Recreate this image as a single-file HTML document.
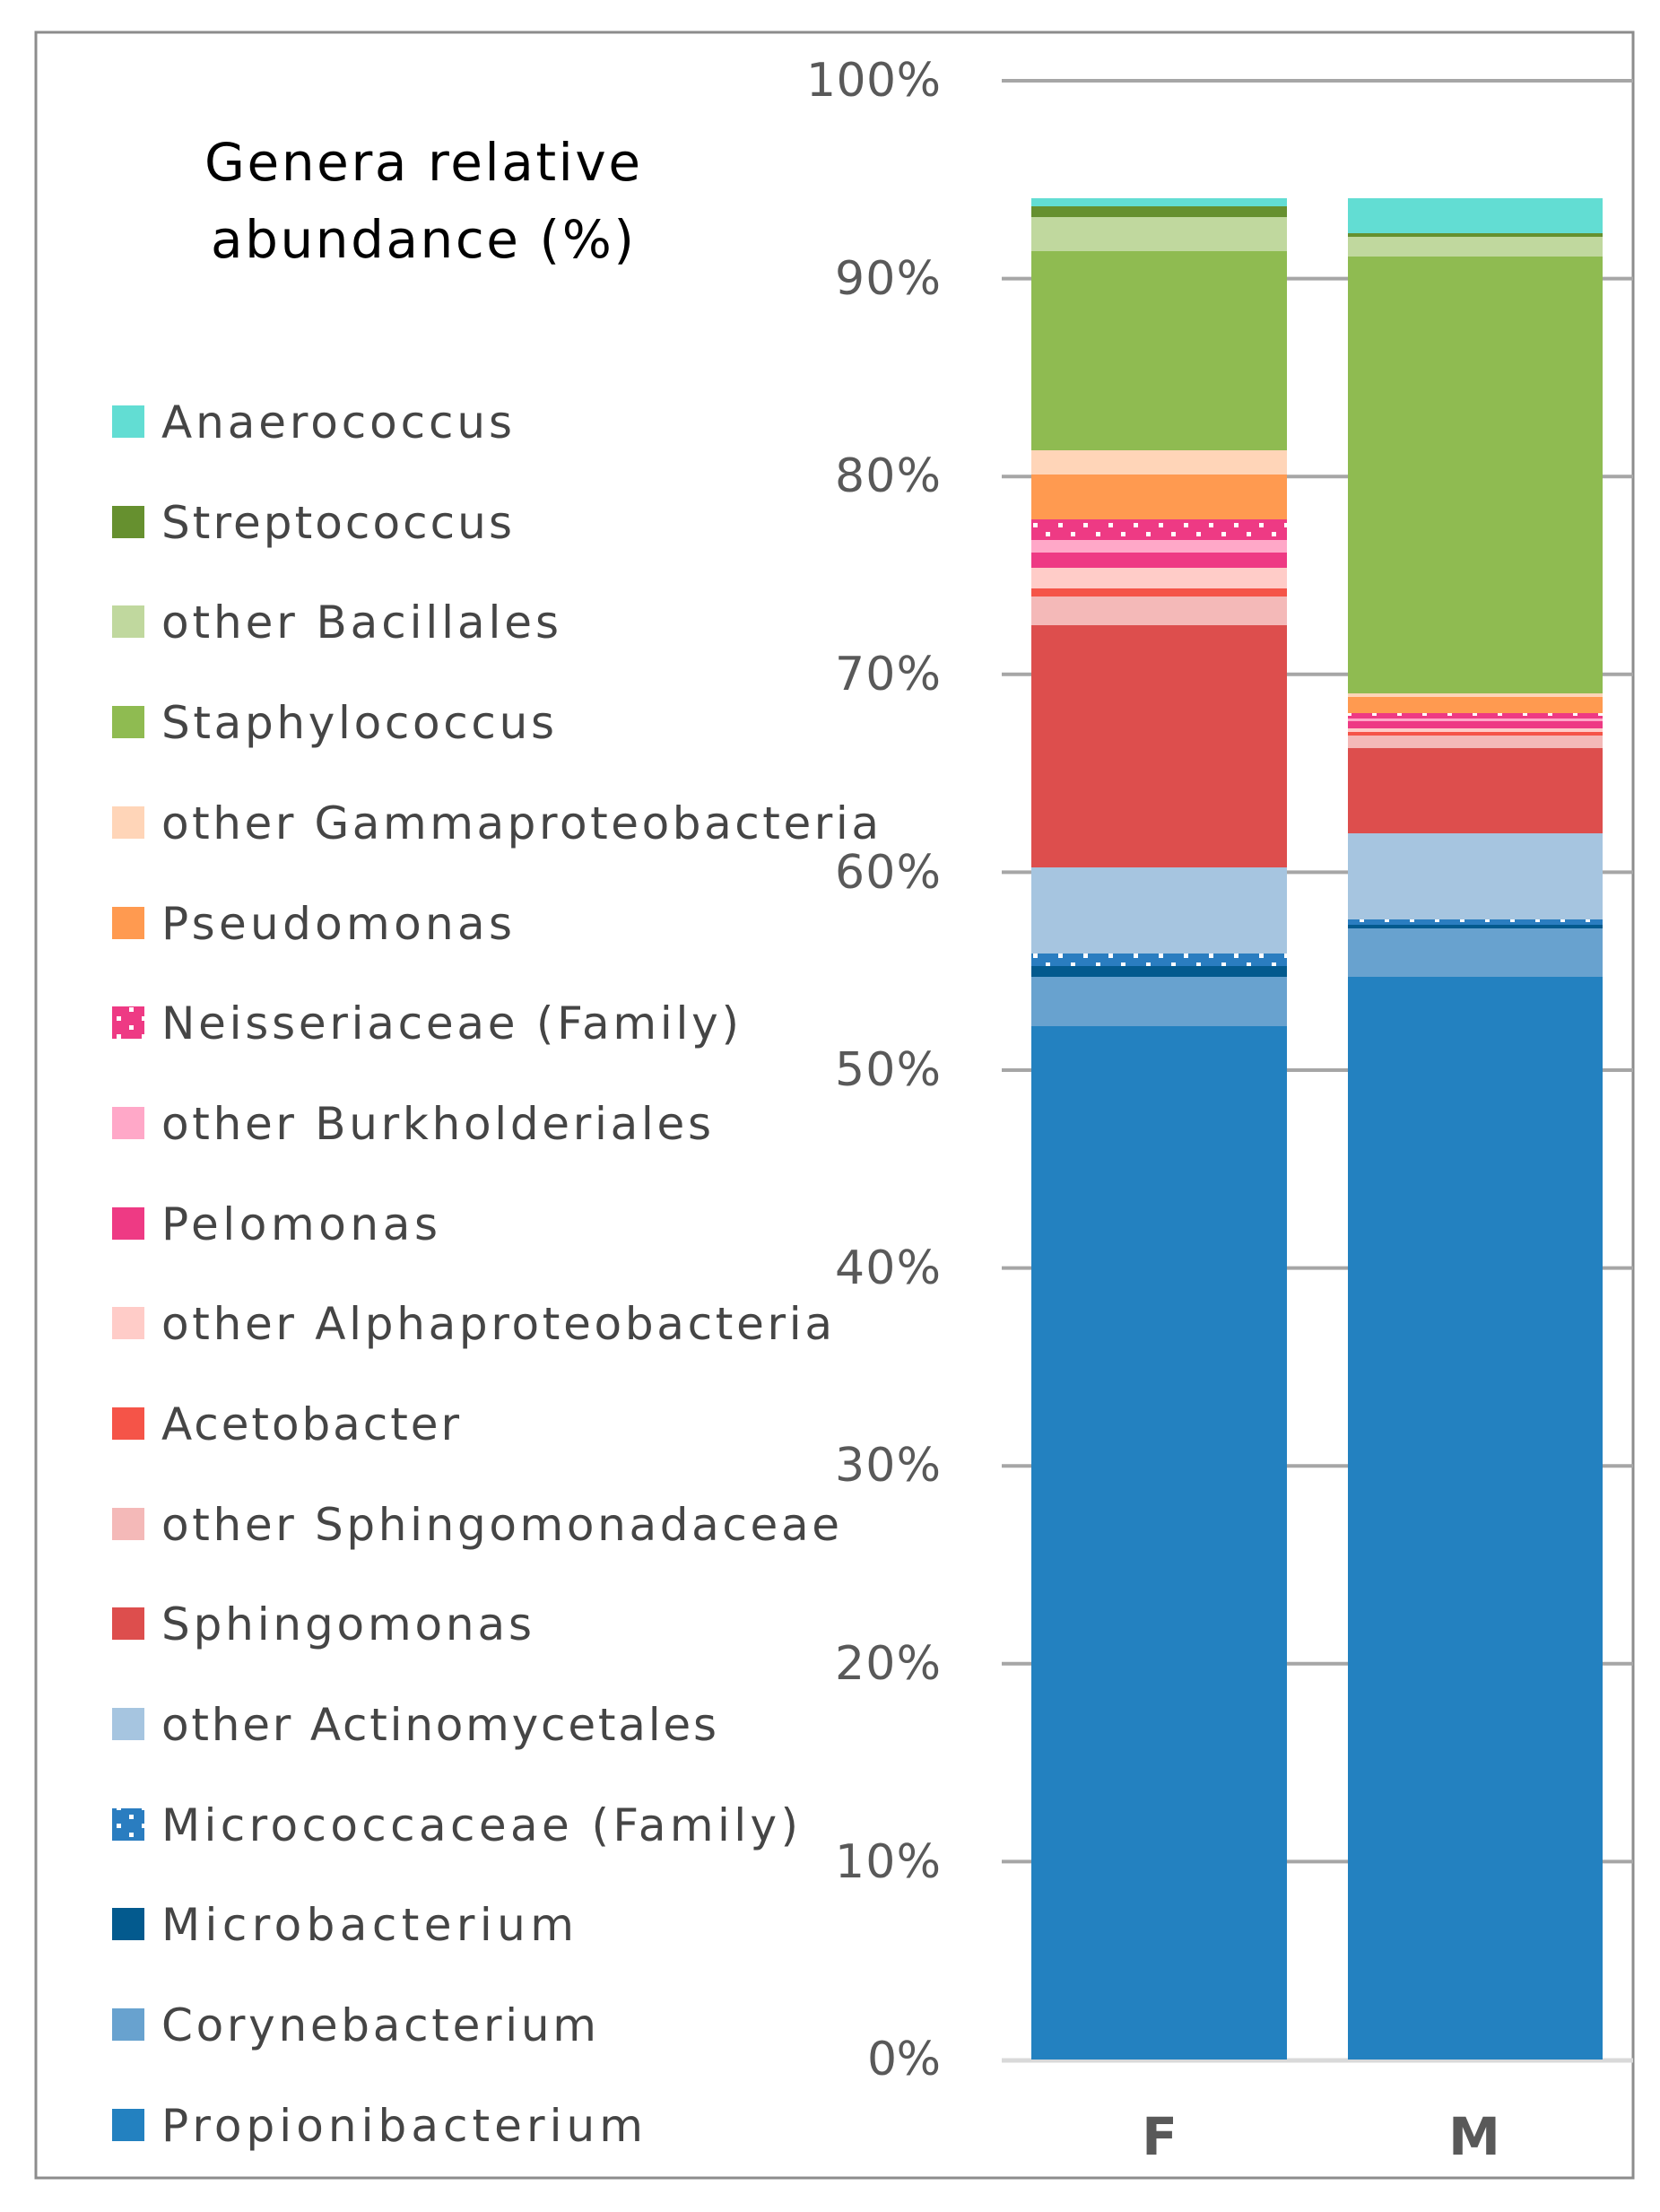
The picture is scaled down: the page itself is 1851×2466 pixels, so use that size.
<!DOCTYPE html>
<html><head><meta charset="utf-8"><style>
html,body{margin:0;padding:0;background:#fff;}
svg{display:block;}
text{font-family:"DejaVu Sans","Liberation Sans",sans-serif;}
</style></head><body>
<svg width="1851" height="2466" viewBox="0 0 1851 2466" xmlns="http://www.w3.org/2000/svg">
<defs>
<pattern id="pk" width="28" height="20" patternUnits="userSpaceOnUse">
<rect width="28" height="20" fill="#EE3A84"/>
<rect x="4" y="3" width="5" height="5" fill="#fff"/><rect x="18" y="13" width="5" height="5" fill="#fff"/>
</pattern>
<pattern id="bl" width="28" height="20" patternUnits="userSpaceOnUse">
<rect width="28" height="20" fill="#2A7DC0"/>
<rect x="4" y="3" width="5" height="5" fill="#fff"/><rect x="18" y="13" width="5" height="5" fill="#fff"/>
</pattern>
</defs>
<rect x="40" y="36" width="1781" height="2392" fill="#fff" stroke="#8c8c8c" stroke-width="3"/>
<g stroke="#a6a6a6" stroke-width="4">
<line x1="1117" y1="90" x2="1821" y2="90"/>
<line x1="1117" y1="310.6" x2="1821" y2="310.6"/>
<line x1="1117" y1="531.2" x2="1821" y2="531.2"/>
<line x1="1117" y1="751.8" x2="1821" y2="751.8"/>
<line x1="1117" y1="972.4" x2="1821" y2="972.4"/>
<line x1="1117" y1="1193" x2="1821" y2="1193"/>
<line x1="1117" y1="1413.6" x2="1821" y2="1413.6"/>
<line x1="1117" y1="1634.2" x2="1821" y2="1634.2"/>
<line x1="1117" y1="1854.8" x2="1821" y2="1854.8"/>
<line x1="1117" y1="2075.4" x2="1821" y2="2075.4"/>
</g>
<line x1="1117" y1="2297" x2="1821" y2="2297" stroke="#d9d9d9" stroke-width="5"/>
<g fill="#595959" font-size="52" text-anchor="end">
<text x="1049" y="107" textLength="150">100%</text>
<text x="1049" y="328" textLength="118">90%</text>
<text x="1049" y="548" textLength="118">80%</text>
<text x="1049" y="769" textLength="118">70%</text>
<text x="1049" y="990" textLength="118">60%</text>
<text x="1049" y="1210" textLength="118">50%</text>
<text x="1049" y="1431" textLength="118">40%</text>
<text x="1049" y="1651" textLength="118">30%</text>
<text x="1049" y="1872" textLength="118">20%</text>
<text x="1049" y="2093" textLength="118">10%</text>
<text x="1049" y="2313" textLength="82">0%</text>
</g>
<g>
<rect x="1150" y="1144" width="285" height="1152" fill="#2381C0"/>
<rect x="1150" y="1089" width="285" height="55" fill="#68A2CF"/>
<rect x="1150" y="1077" width="285" height="12" fill="#035A8E"/>
<rect x="1150" y="1063" width="285" height="14" fill="url(#bl)"/>
<rect x="1150" y="967" width="285" height="96" fill="#A6C5E0"/>
<rect x="1150" y="697" width="285" height="270" fill="#DD4E4D"/>
<rect x="1150" y="665" width="285" height="32" fill="#F4B9B8"/>
<rect x="1150" y="656" width="285" height="9" fill="#F55448"/>
<rect x="1150" y="633" width="285" height="23" fill="#FFCCC8"/>
<rect x="1150" y="616" width="285" height="17" fill="#EE3A84"/>
<rect x="1150" y="602" width="285" height="14" fill="#FFA8C8"/>
<rect x="1150" y="579" width="285" height="23" fill="url(#pk)"/>
<rect x="1150" y="529" width="285" height="50" fill="#FF9A50"/>
<rect x="1150" y="502" width="285" height="27" fill="#FFD5B8"/>
<rect x="1150" y="280" width="285" height="222" fill="#8FBB51"/>
<rect x="1150" y="242" width="285" height="38" fill="#C0D89E"/>
<rect x="1150" y="230" width="285" height="12" fill="#66902F"/>
<rect x="1150" y="221" width="285" height="9" fill="#62DDD3"/>
</g>
<g>
<rect x="1503" y="1089" width="284" height="1207" fill="#2381C0"/>
<rect x="1503" y="1035" width="284" height="54" fill="#68A2CF"/>
<rect x="1503" y="1031" width="284" height="4" fill="#035A8E"/>
<rect x="1503" y="1025" width="284" height="6" fill="url(#bl)"/>
<rect x="1503" y="929" width="284" height="96" fill="#A6C5E0"/>
<rect x="1503" y="834" width="284" height="95" fill="#DD4E4D"/>
<rect x="1503" y="820" width="284" height="14" fill="#F4B9B8"/>
<rect x="1503" y="816" width="284" height="4" fill="#F55448"/>
<rect x="1503" y="812" width="284" height="4" fill="#FFCCC8"/>
<rect x="1503" y="804" width="284" height="8" fill="#EE3A84"/>
<rect x="1503" y="801" width="284" height="3" fill="#FFA8C8"/>
<rect x="1503" y="795" width="284" height="6" fill="url(#pk)"/>
<rect x="1503" y="777" width="284" height="18" fill="#FF9A50"/>
<rect x="1503" y="773" width="284" height="4" fill="#FFD5B8"/>
<rect x="1503" y="286" width="284" height="487" fill="#8FBB51"/>
<rect x="1503" y="264" width="284" height="22" fill="#C0D89E"/>
<rect x="1503" y="260" width="284" height="4" fill="#66902F"/>
<rect x="1503" y="221" width="284" height="39" fill="#62DDD3"/>
</g>
<g fill="#595959" font-size="58" font-weight="bold" text-anchor="middle">
<text x="1293" y="2402">F</text>
<text x="1644" y="2402">M</text>
</g>
<g fill="#000" font-size="58" text-anchor="middle">
<text x="471" y="201" textLength="486">Genera relative</text>
<text x="471" y="287" textLength="472">abundance (%)</text>
</g>
<g fill="#454545" font-size="50">
<rect x="125" y="452" width="36" height="36" fill="#62DDD3"/><text x="180" y="488" textLength="391">Anaerococcus</text>
<rect x="125" y="564" width="36" height="36" fill="#66902F"/><text x="180" y="600" textLength="391">Streptococcus</text>
<rect x="125" y="675" width="36" height="36" fill="#C0D89E"/><text x="180" y="711" textLength="443">other Bacillales</text>
<rect x="125" y="787" width="36" height="36" fill="#8FBB51"/><text x="180" y="823" textLength="438">Staphylococcus</text>
<rect x="125" y="899" width="36" height="36" fill="#FFD5B8"/><text x="180" y="935" textLength="800">other Gammaproteobacteria</text>
<rect x="125" y="1011" width="36" height="36" fill="#FF9A50"/><text x="180" y="1047" textLength="391">Pseudomonas</text>
<rect x="125" y="1122" width="36" height="36" fill="url(#pk)"/><text x="180" y="1158" textLength="644">Neisseriaceae (Family)</text>
<rect x="125" y="1234" width="36" height="36" fill="#FFA8C8"/><text x="180" y="1270" textLength="613">other Burkholderiales</text>
<rect x="125" y="1346" width="36" height="36" fill="#EE3A84"/><text x="180" y="1382" textLength="308">Pelomonas</text>
<rect x="125" y="1457" width="36" height="36" fill="#FFCCC8"/><text x="180" y="1493" textLength="748">other Alphaproteobacteria</text>
<rect x="125" y="1569" width="36" height="36" fill="#F55448"/><text x="180" y="1605" textLength="332">Acetobacter</text>
<rect x="125" y="1681" width="36" height="36" fill="#F4B9B8"/><text x="180" y="1717" textLength="756">other Sphingomonadaceae</text>
<rect x="125" y="1792" width="36" height="36" fill="#DD4E4D"/><text x="180" y="1828" textLength="413">Sphingomonas</text>
<rect x="125" y="1904" width="36" height="36" fill="#A6C5E0"/><text x="180" y="1940" textLength="619">other Actinomycetales</text>
<rect x="125" y="2016" width="36" height="36" fill="url(#bl)"/><text x="180" y="2052" textLength="710">Micrococcaceae (Family)</text>
<rect x="125" y="2127" width="36" height="36" fill="#035A8E"/><text x="180" y="2163" textLength="460">Microbacterium</text>
<rect x="125" y="2239" width="36" height="36" fill="#68A2CF"/><text x="180" y="2275" textLength="485">Corynebacterium</text>
<rect x="125" y="2351" width="36" height="36" fill="#2381C0"/><text x="180" y="2387" textLength="537">Propionibacterium</text>
</g>
</svg>
</body></html>
